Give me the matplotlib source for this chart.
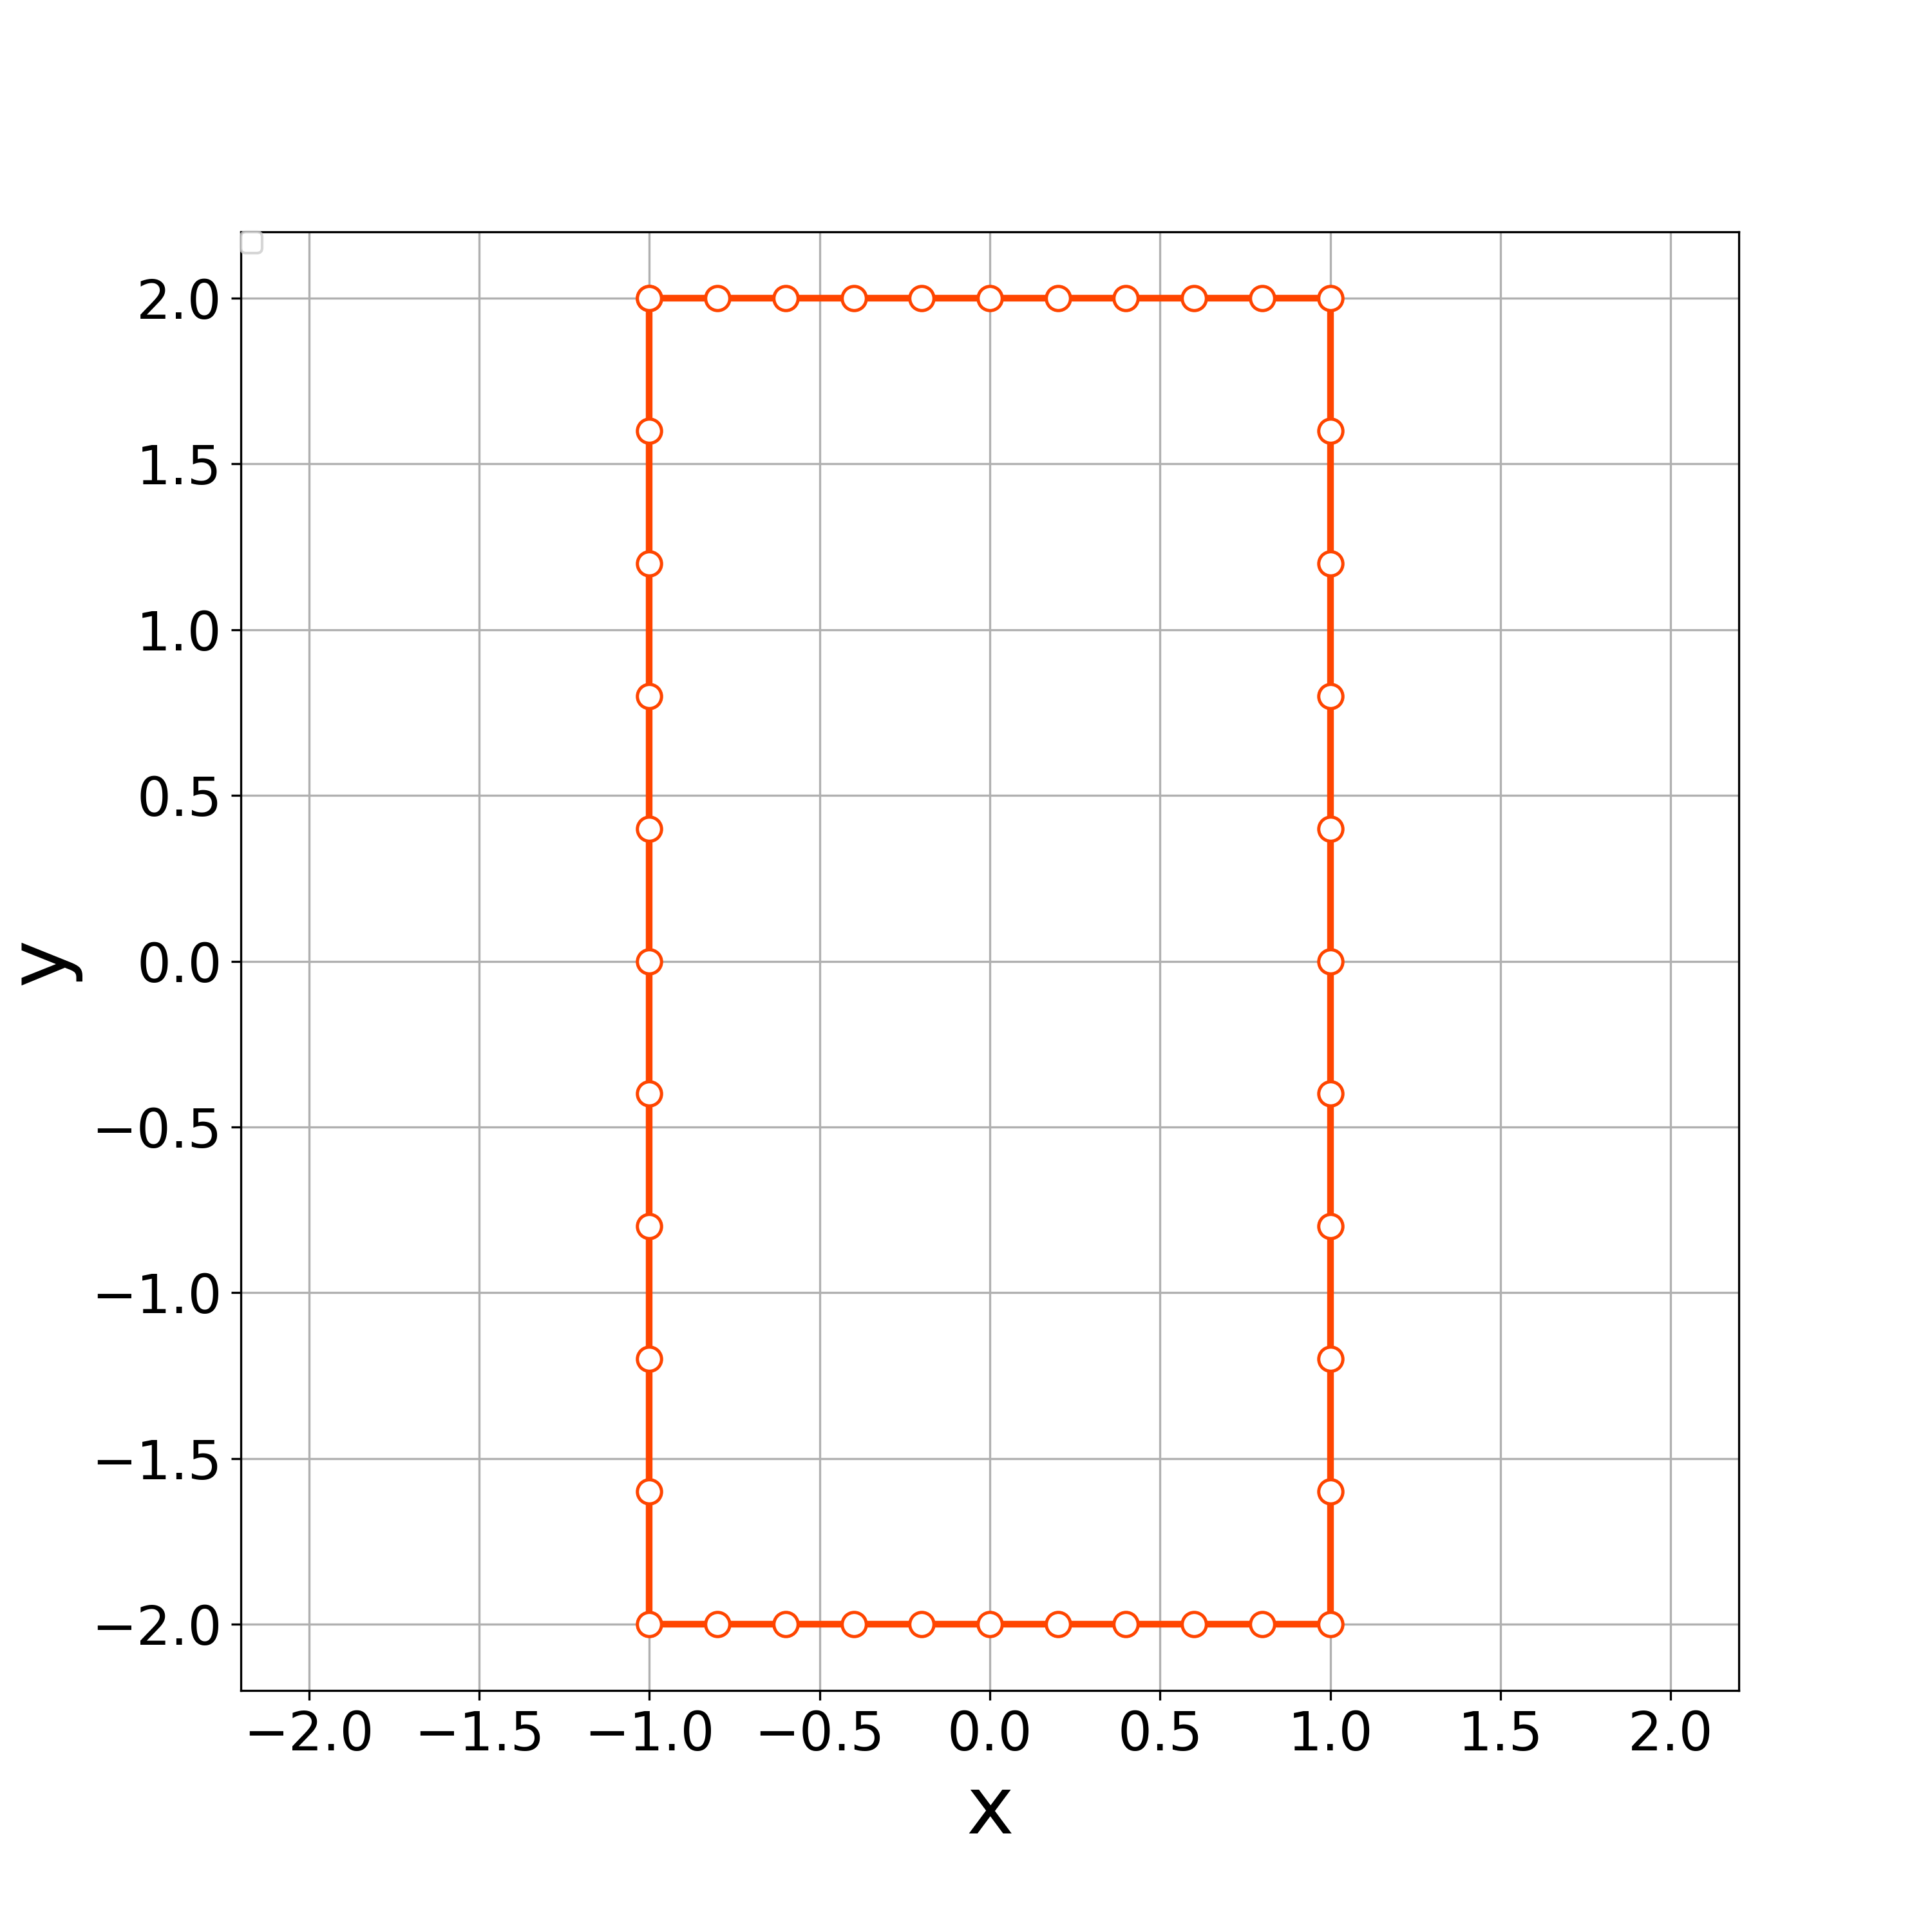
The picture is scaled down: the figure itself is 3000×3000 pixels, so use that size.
import matplotlib
matplotlib.use("Agg")
import matplotlib.pyplot as plt

# Boundary vertices of the rectangle (closed path)
top_x = [-1.0, -0.8, -0.6, -0.4, -0.2, 0.0, 0.2, 0.4, 0.6, 0.8, 1.0]
side_y = [2.0, 1.6, 1.2, 0.8, 0.4, 0.0, -0.4, -0.8, -1.2, -1.6, -2.0]

xs = top_x + [1.0] * (len(side_y) - 2) + top_x[::-1] + [-1.0] * (len(side_y) - 1)
ys = [2.0] * len(top_x) + side_y[1:-1] + [-2.0] * len(top_x) + side_y[::-1][1:]

ticks = [-2.0, -1.5, -1.0, -0.5, 0.0, 0.5, 1.0, 1.5, 2.0]

fig = plt.figure(figsize=(10, 10), dpi=300)
ax = fig.add_axes([0.1247, 0.125, 0.7753, 0.755])
ax.plot(xs, ys, color="#FF4500", lw=2.5, marker="o", markersize=9,
        markerfacecolor="white", markeredgecolor="#FF4500", markeredgewidth=1.2,
        zorder=3)
ax.set_xlim(-2.2, 2.2)
ax.set_ylim(-2.2, 2.2)
ax.set_xticks(ticks)
ax.set_yticks(ticks)
ax.tick_params(labelsize=20)
ax.set_xlabel("x", fontsize=30)
ax.set_ylabel("y", fontsize=30)
ax.grid(True)
ax.legend(handles=[], loc="upper left", borderaxespad=0)
fig.savefig("out.png", dpi=300)
